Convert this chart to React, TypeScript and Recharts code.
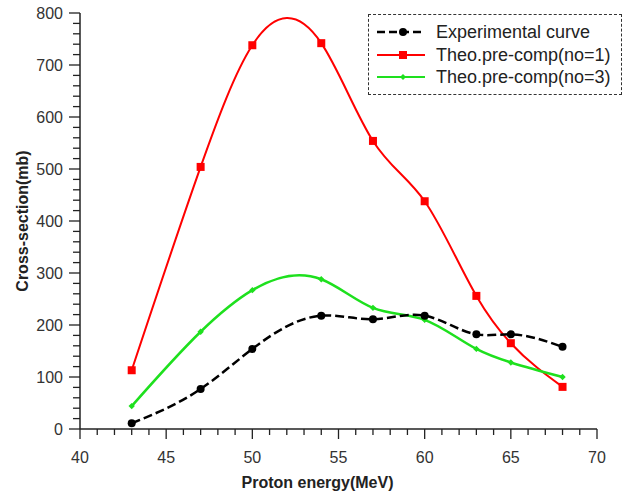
import React from 'react';
import { ComposedChart, Line, XAxis, YAxis, Legend } from 'recharts';

const energy = [43, 47, 50, 54, 57, 60, 63, 65, 68];
const experimental = [11, 77, 154, 218, 211, 218, 182, 182, 158];
const theoNo1 = [113, 504, 738, 742, 554, 438, 256, 165, 81];
const theoNo3 = [44, 187, 267, 288, 233, 210, 154, 128, 100];

const xMajorTicks = [40, 45, 50, 55, 60, 65, 70];
const yMajorTicks = [0, 100, 200, 300, 400, 500, 600, 700, 800];
const xMinorStep = 1;
const yMinorStep = 20;

const data = energy.map((e, i) => ({
  energy: e,
  exp: experimental[i],
  no1: theoNo1[i],
  no3: theoNo3[i],
}));

const buildTicks = (major: number[], step: number) => {
  const out: number[] = [];
  const lo = major[0];
  const hi = major[major.length - 1];
  for (let v = lo; v <= hi + 1e-9; v += step) out.push(Math.round(v * 1000) / 1000);
  return out;
};
const xTicks = buildTicks(xMajorTicks, xMinorStep);
const yTicks = buildTicks(yMajorTicks, yMinorStep);

// Natural cubic spline y(x) (function spline), drawn as Bezier segments.
const naturalSplineX = (context: any) => {
  let xs: number[] = [];
  let ys: number[] = [];
  return {
    areaStart() {},
    areaEnd() {},
    lineStart() {
      xs = [];
      ys = [];
    },
    point(x: number, y: number) {
      xs.push(+x);
      ys.push(+y);
    },
    lineEnd() {
      const n = xs.length;
      if (n === 0) return;
      context.moveTo(xs[0], ys[0]);
      if (n === 1) return;
      if (n === 2) {
        context.lineTo(xs[1], ys[1]);
        return;
      }
      const h: number[] = [];
      for (let i = 0; i < n - 1; i++) h.push(xs[i + 1] - xs[i]);
      const a: number[] = new Array(n).fill(0);
      const b: number[] = new Array(n).fill(1);
      const c: number[] = new Array(n).fill(0);
      const d: number[] = new Array(n).fill(0);
      for (let i = 1; i < n - 1; i++) {
        a[i] = h[i - 1];
        b[i] = 2 * (h[i - 1] + h[i]);
        c[i] = h[i];
        d[i] = 6 * ((ys[i + 1] - ys[i]) / h[i] - (ys[i] - ys[i - 1]) / h[i - 1]);
      }
      for (let i = 1; i < n; i++) {
        const w = a[i] / b[i - 1];
        b[i] -= w * c[i - 1];
        d[i] -= w * d[i - 1];
      }
      const M: number[] = new Array(n).fill(0);
      M[n - 1] = d[n - 1] / b[n - 1];
      for (let i = n - 2; i >= 0; i--) M[i] = (d[i] - c[i] * M[i + 1]) / b[i];
      for (let i = 0; i < n - 1; i++) {
        const hi = h[i];
        const s = (ys[i + 1] - ys[i]) / hi;
        const m0 = s - (hi * (2 * M[i] + M[i + 1])) / 6;
        const m1 = s + (hi * (M[i] + 2 * M[i + 1])) / 6;
        context.bezierCurveTo(
          xs[i] + hi / 3,
          ys[i] + (m0 * hi) / 3,
          xs[i + 1] - hi / 3,
          ys[i + 1] - (m1 * hi) / 3,
          xs[i + 1],
          ys[i + 1]
        );
      }
    },
  };
};

const FONT = '"Liberation Sans", Arial, Helvetica, sans-serif';
const AXIS = '#222';
const RED = '#ff0000';
const GREEN = '#1ee01e';

const XTick = (props: any) => {
  const { x, y, payload } = props;
  const major = xMajorTicks.includes(payload.value);
  return (
    <g>
      <line x1={x} x2={x} y1={y} y2={y + (major ? 10 : 6)} stroke={AXIS} strokeWidth={1.3} />
      {major && (
        <text x={x} y={y + 34} textAnchor="middle" fontSize={16} fontFamily={FONT} fill="#333">
          {payload.value}
        </text>
      )}
    </g>
  );
};

const YTick = (props: any) => {
  const { x, y, payload } = props;
  const major = yMajorTicks.includes(payload.value);
  return (
    <g>
      <line x1={x} x2={x - (major ? 11 : 7)} y1={y} y2={y} stroke={AXIS} strokeWidth={1.3} />
      {major && (
        <text x={x - 17} y={y + 6} textAnchor="end" fontSize={16} fontFamily={FONT} fill="#333">
          {payload.value}
        </text>
      )}
    </g>
  );
};

const RedSquare = (props: any) => {
  const { cx, cy, index } = props;
  return <rect key={`r${index}`} x={cx - 4} y={cy - 4} width={8} height={8} fill={RED} />;
};

const GreenDot = (props: any) => {
  const { cx, cy, index } = props;
  return (
    <path
      key={`g${index}`}
      d={`M${cx},${cy - 3.2} L${cx + 3.2},${cy} L${cx},${cy + 3.2} L${cx - 3.2},${cy} Z`}
      fill={GREEN}
    />
  );
};

const series = [
  { key: 'exp', name: 'Experimental curve', color: '#000000', marker: 'circle', dash: true },
  { key: 'no1', name: 'Theo.pre-comp(no=1)', color: RED, marker: 'square', dash: false },
  { key: 'no3', name: 'Theo.pre-comp(no=3)', color: GREEN, marker: 'diamond', dash: false },
];

const LegendContent = () => (
  <div
    style={{
      boxSizing: 'border-box',
      width: 254,
      height: 81,
      border: '1.3px dashed #333',
      background: '#fff',
      paddingTop: 6,
      fontFamily: FONT,
    }}
  >
    {series.map((s) => (
      <div key={s.key} style={{ height: 22.5, display: 'flex', alignItems: 'center' }}>
        <svg width={67} height={20} style={{ flex: 'none' }}>
          <line
            x1={8}
            x2={56}
            y1={10}
            y2={10}
            stroke={s.color}
            strokeWidth={s.dash ? 2.5 : 2}
            strokeDasharray={s.dash ? '8 4' : undefined}
          />
          {s.marker === 'circle' && <circle cx={34} cy={10} r={4} fill={s.color} />}
          {s.marker === 'square' && <rect x={30} y={6} width={8} height={8} fill={s.color} />}
          {s.marker === 'diamond' && <path d="M34,7 L37,10 L34,13 L31,10 Z" fill={s.color} />}
        </svg>
        <span style={{ fontSize: 18, color: '#222', lineHeight: '20px', whiteSpace: 'nowrap' }}>{s.name}</span>
      </div>
    ))}
  </div>
);

export default function App() {
  return (
    <div style={{ position: 'absolute', left: 0, top: 0, width: 626, height: 497, background: '#fff' }}>
      <ComposedChart
        width={626}
        height={497}
        data={data}
        margin={{ top: 13, right: 29, bottom: 0, left: 0 }}
      >
        <XAxis
          dataKey="energy"
          type="number"
          domain={[40, 70]}
          ticks={xTicks}
          interval={0}
          height={68}
          tickSize={0}
          tickMargin={0}
          tickLine={false}
          tick={<XTick />}
          axisLine={{ stroke: AXIS, strokeWidth: 1.5 }}
          label={{
            value: 'Proton energy(MeV)',
            position: 'insideBottom',
            offset: 9,
            dx: -21,
            style: { fontSize: 16, fontWeight: 'bold', fontFamily: FONT, fill: '#222' },
          }}
        />
        <YAxis
          type="number"
          domain={[0, 800]}
          ticks={yTicks}
          interval={0}
          width={80}
          tickSize={0}
          tickMargin={0}
          tickLine={false}
          tick={<YTick />}
          axisLine={{ stroke: AXIS, strokeWidth: 1.5 }}
          label={{
            value: 'Cross-section(mb)',
            angle: -90,
            position: 'insideLeft',
            offset: 22,
            style: { fontSize: 16, fontWeight: 'bold', fontFamily: FONT, fill: '#222', textAnchor: 'middle' },
          }}
        />
        <Legend
          layout="vertical"
          align="center"
          verticalAlign="middle"
          content={<LegendContent />}
          wrapperStyle={{ left: 368, top: 14, width: 254, height: 81 }}
        />
        <Line
          type={naturalSplineX as any}
          dataKey="no1"
          name="Theo.pre-comp(no=1)"
          stroke={RED}
          strokeWidth={2}
          dot={RedSquare}
          activeDot={false}
          isAnimationActive={false}
        />
        <Line
          type={naturalSplineX as any}
          dataKey="no3"
          name="Theo.pre-comp(no=3)"
          stroke={GREEN}
          strokeWidth={2.5}
          dot={GreenDot}
          activeDot={false}
          isAnimationActive={false}
        />
        <Line
          type={naturalSplineX as any}
          dataKey="exp"
          name="Experimental curve"
          stroke="#000000"
          strokeWidth={2.5}
          strokeDasharray="9 4"
          dot={{ r: 4, fill: '#000', stroke: 'none' }}
          activeDot={false}
          isAnimationActive={false}
        />
      </ComposedChart>
    </div>
  );
}
